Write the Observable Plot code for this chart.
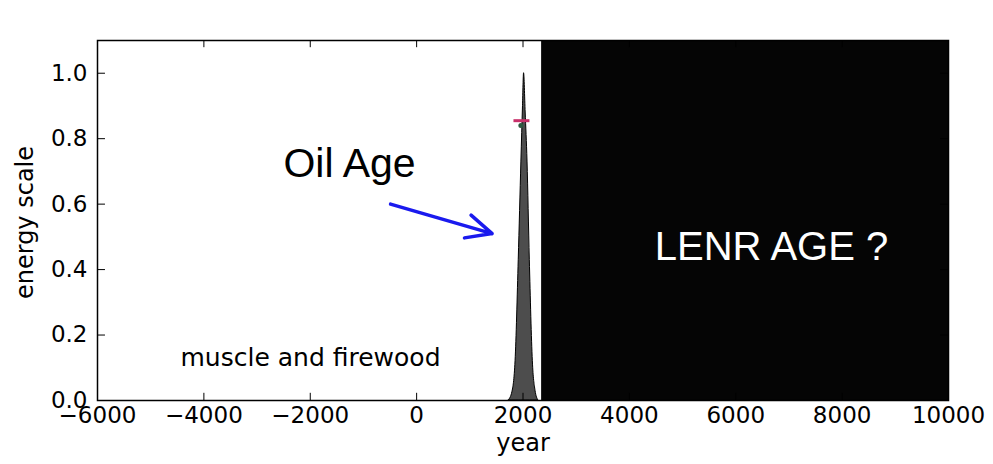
<!DOCTYPE html>
<html><head><meta charset="utf-8">
<script src="https://cdn.jsdelivr.net/npm/d3@7"></script>
<script src="https://cdn.jsdelivr.net/npm/@observablehq/plot@0.6"></script>
<style>body{margin:0;background:#fff;} svg{font-family:"DejaVu Sans",sans-serif;}</style>
</head><body><div id="chart"></div>
<script>
const xTicks = [-6000, -4000, -2000, 0, 2000, 4000, 6000, 8000, 10000];
const yTicks = [0, 0.2, 0.4, 0.6, 0.8, 1.0];
const oilYears  = [1730, 1800, 1860, 1920, 1970, 2000, 2020, 2050, 2085, 2128, 2185, 2235, 2290];
const oilEnergy = [0,    0.025, 0.12, 0.43, 0.73, 0.9, 1.0,  0.88, 0.73, 0.43, 0.12, 0.03, 0];
const lenrAge = {x1: 2350, x2: 10000, y1: 0, y2: 1.1};
const marker = {x1: 1830, x2: 2130, y: 0.855};
const markerDot = {x: 1960, y: 0.84};
const arrow = {x1: -490, y1: 0.60, x2: 1420, y2: 0.51};
const oilLabel = {x: -1262, y: 0.724, text: "Oil Age"};
const lenrLabel = {x: 6672, y: 0.467, text: "LENR AGE ?"};
const muscleLabel = {x: -1995, y: 0.131, text: "muscle and firewood"};

const oil = oilYears.map((x, i) => ({x, y: oilEnergy[i]}));
const fmtX = d => d < 0 ? "\u2212" + Math.abs(d) : String(d);

const chart = Plot.plot({
  width: 993, height: 464,
  marginLeft: 97, marginRight: 45, marginTop: 40, marginBottom: 64,
  style: {fontFamily: "DejaVu Sans", fontSize: "22px", background: "white"},
  x: {domain: [-6000, 10000], label: null},
  y: {domain: [0, 1.1], label: null},
  marks: [
    Plot.rectY([lenrAge], {x1: "x1", x2: "x2", y1: "y1", y2: "y2", fill: "#050505"}),
    Plot.areaY(oil, {x: "x", y: "y", fill: "#4d4d4d", stroke: "black", strokeWidth: 1, curve: "monotone-x"}),
    Plot.ruleY([marker], {x1: "x1", x2: "x2", y: "y", stroke: "#c8306a", strokeWidth: 3}),
    Plot.dot([markerDot], {x: "x", y: "y", r: 2.5, fill: "#2d5a40"}),
    Plot.arrow([arrow], {x1: "x1", y1: "y1", x2: "x2", y2: "y2", stroke: "#1a1aee", strokeWidth: 3.5, headLength: 12, headAngle: 50}),
    Plot.text([oilLabel], {x: "x", y: "y", text: "text", fontSize: 41, fill: "black", fontFamily: "Liberation Sans"}),
    Plot.text([lenrLabel], {x: "x", y: "y", text: "text", fontSize: 40, fill: "white", fontFamily: "Liberation Sans"}),
    Plot.text([muscleLabel], {x: "x", y: "y", text: "text", fontSize: 25, fill: "black", fontFamily: "DejaVu Sans"}),
    Plot.ruleX(xTicks, {y1: 0, y2: 0.022, stroke: "black"}),
    Plot.ruleX(xTicks, {y1: 1.078, y2: 1.1, stroke: "black"}),
    Plot.ruleY(yTicks, {x1: -6000, x2: -5850, stroke: "black"}),
    Plot.ruleY(yTicks, {x1: 9850, x2: 10000, stroke: "black"}),
    Plot.frame({stroke: "black", strokeWidth: 1.5}),
    Plot.axisX({ticks: xTicks, tickFormat: fmtX, tickSize: 0, tickPadding: 6, fontSize: 23, label: null}),
    Plot.axisY({ticks: yTicks, tickFormat: d3.format(".1f"), tickSize: 0, tickPadding: 10, fontSize: 23, label: null}),
    Plot.text(["year"], {frameAnchor: "bottom", dy: 50, fontSize: 24}),
    Plot.text(["energy scale"], {frameAnchor: "left", textAnchor: "middle", dx: -72, dy: 2, rotate: -90, fontSize: 24})
  ]
});
document.getElementById("chart").appendChild(chart);
</script></body></html>
